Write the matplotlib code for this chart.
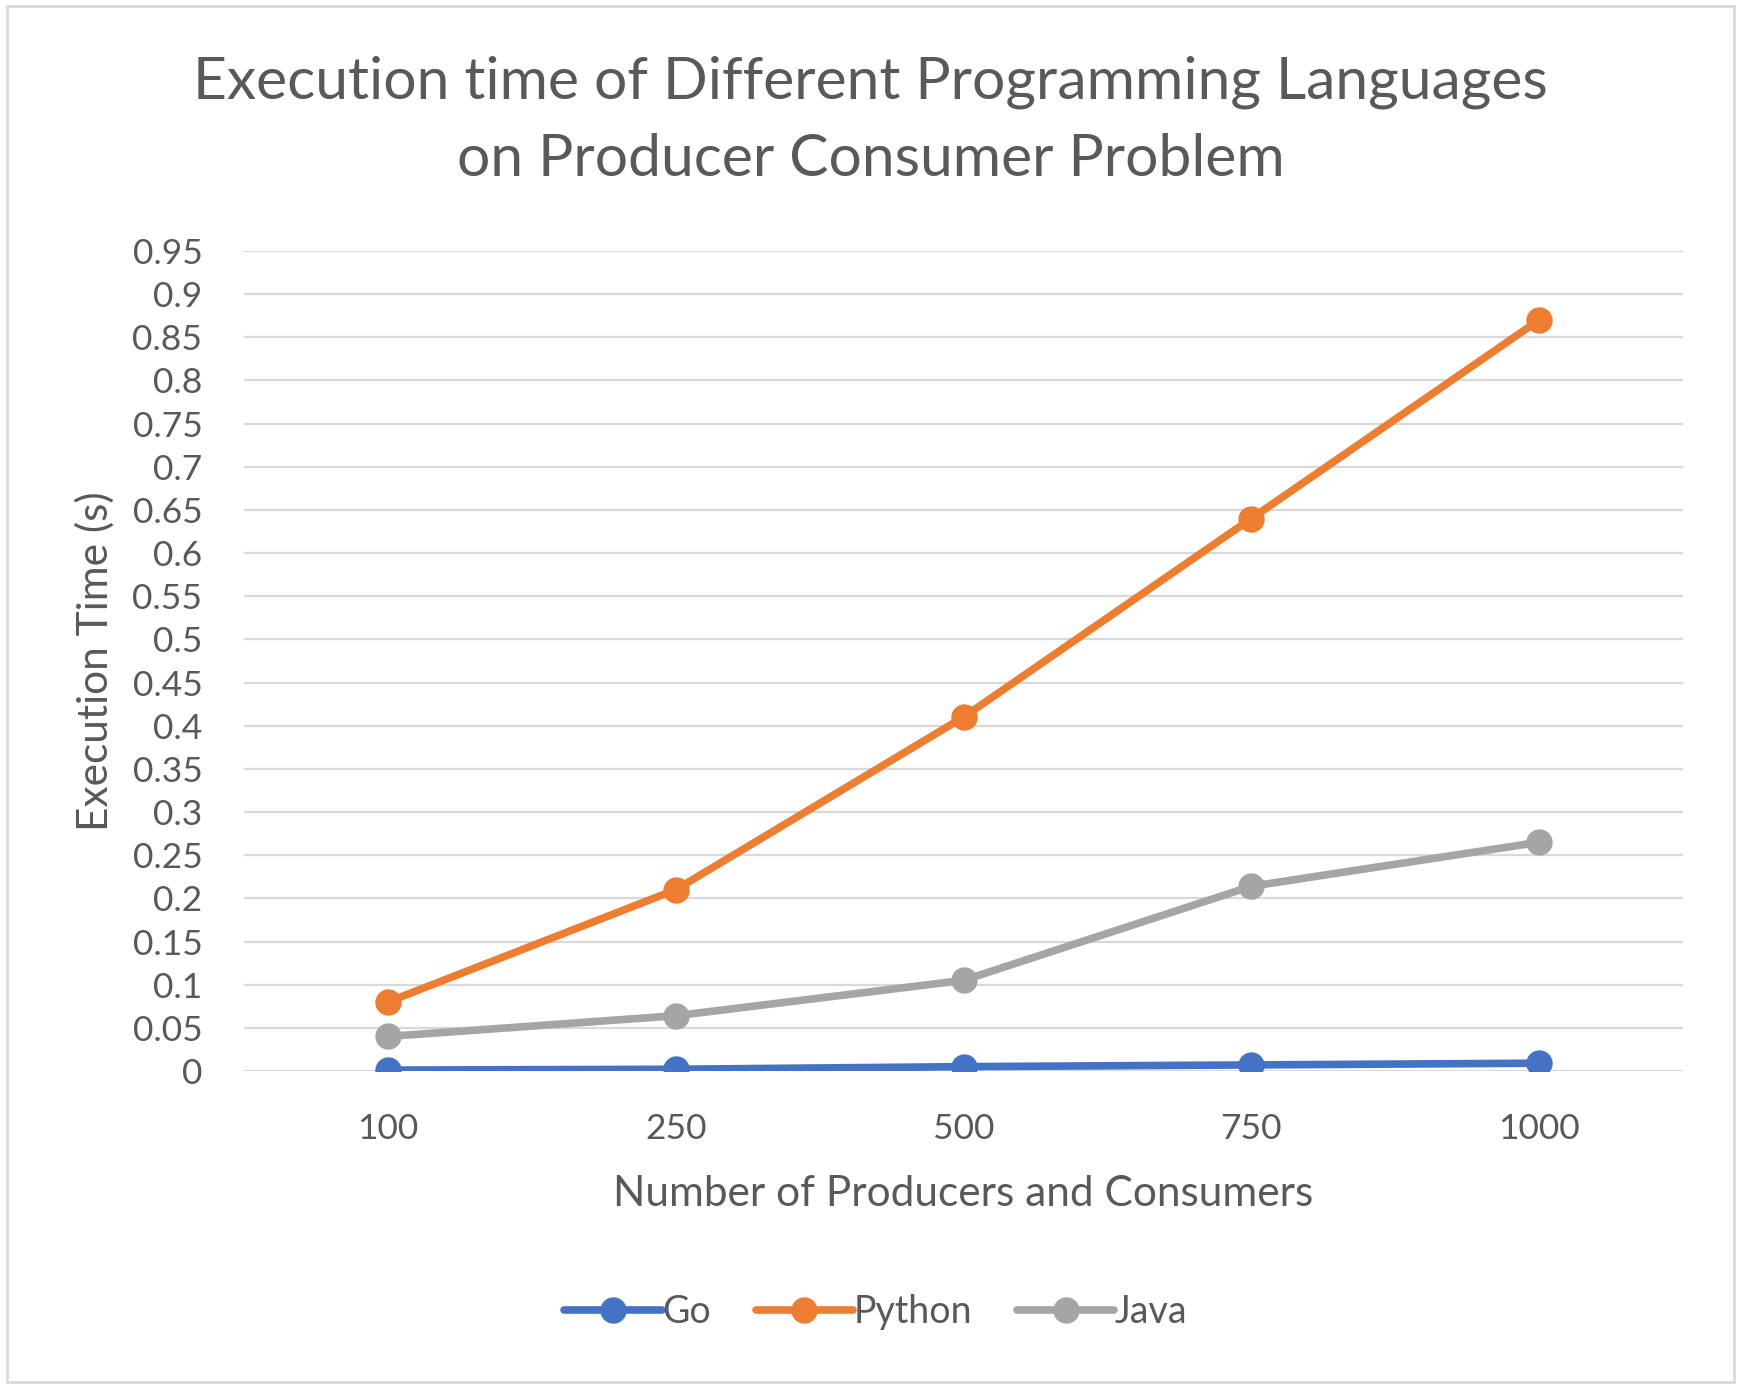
import matplotlib.pyplot as plt
from matplotlib.patches import Rectangle

plt.rcParams['font.family'] = ['Lato', 'DejaVu Sans']

# data
sizes = ["100", "250", "500", "750", "1000"]
go_times = [0.001, 0.002, 0.005, 0.007, 0.009]
python_times = [0.08, 0.21, 0.41, 0.64, 0.87]
java_times = [0.04, 0.064, 0.105, 0.214, 0.265]
y_ticks = [0, 0.05, 0.1, 0.15, 0.2, 0.25, 0.3, 0.35, 0.4, 0.45,
           0.5, 0.55, 0.6, 0.65, 0.7, 0.75, 0.8, 0.85, 0.9, 0.95]
y_labels = ["0", "0.05", "0.1", "0.15", "0.2", "0.25", "0.3", "0.35", "0.4", "0.45",
            "0.5", "0.55", "0.6", "0.65", "0.7", "0.75", "0.8", "0.85", "0.9", "0.95"]

text_color = "#595959"
grid_color = "#d9d9d9"

fig = plt.figure(figsize=(17.41, 13.88), dpi=100)
ax = fig.add_axes([0.1402, 0.2284, 0.8265, 0.5908])

# outer chart border
fig.patches.append(Rectangle((0.004, 0.004), 0.992, 0.992, transform=fig.transFigure,
                             fill=False, edgecolor=grid_color, linewidth=2))

x = list(range(len(sizes)))
series = [("Go", go_times, "#4472C4"),
          ("Python", python_times, "#ED7D31"),
          ("Java", java_times, "#A5A5A5")]
for name, vals, color in series:
    ax.plot(x, vals, color=color, linewidth=5.5, marker="o", markersize=18,
            label=name, solid_capstyle="round", zorder=3)

ax.set_xlim(-0.5, len(sizes) - 0.5)
ax.set_ylim(0, 0.95)
ax.set_xticks(x)
ax.set_xticklabels(sizes)
ax.set_yticks(y_ticks)
ax.set_yticklabels(y_labels)
ax.grid(axis="y", color=grid_color, linewidth=1.6, zorder=0)
for s in ax.spines.values():
    s.set_visible(False)
ax.tick_params(axis="both", length=0, labelsize=25.5, labelcolor=text_color)
ax.tick_params(axis="y", pad=30)
ax.tick_params(axis="x", pad=30)

ax.set_xlabel("Number of Producers and Consumers", fontsize=30.5, color=text_color, labelpad=22)
ax.set_ylabel("Execution Time (s)", fontsize=30.5, color=text_color, labelpad=13)

fig.text(0.5, 0.913, "Execution time of Different Programming Languages\non Producer Consumer Problem",
         ha="center", va="center", fontsize=42.3, color=text_color, linespacing=1.57)

leg = ax.legend(loc="center", bbox_to_anchor=(0.503, 0.055), bbox_transform=fig.transFigure,
                ncol=3, frameon=False, fontsize=27, handlelength=2.6, handletextpad=0.0,
                columnspacing=1.2)
for t in leg.get_texts():
    t.set_color(text_color)

fig.savefig("out.png", dpi=100)
